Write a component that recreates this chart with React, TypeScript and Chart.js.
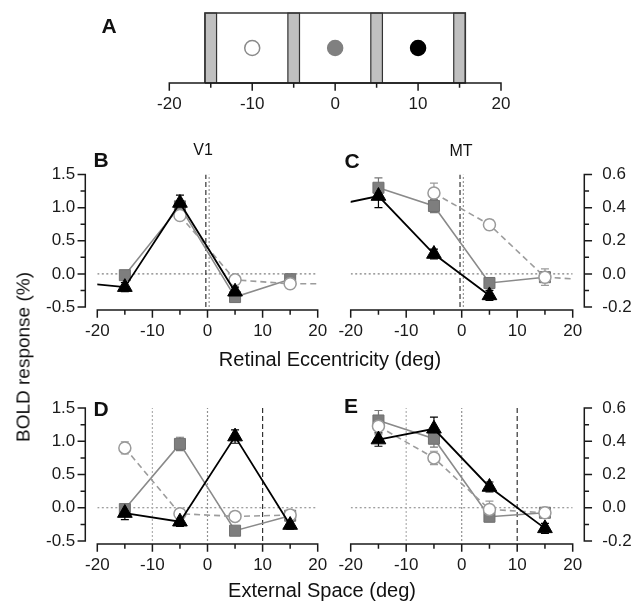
import React, { useEffect, useRef } from 'react';
import { Chart, registerables } from 'chart.js';

Chart.register(...registerables);

const FONT = '"Liberation Sans", Arial, Helvetica, sans-serif';
const W = 643;
const H = 602;

// ---------------- Axis ticks ----------------
const xTickValues = [-20, -10, 0, 10, 20];
const xTickLabels = ['-20', '-10', '0', '10', '20'];
const xMinorTicks = [-15, -5, 5, 15];
const leftYTickValues = [-0.5, 0, 0.5, 1.0, 1.5];
const leftYTickLabels = ['-0.5', '0.0', '0.5', '1.0', '1.5'];
const leftYMinorTicks = [-0.25, 0.25, 0.75, 1.25];
const rightYTickValues = [-0.2, 0, 0.2, 0.4, 0.6];
const rightYTickLabels = ['-0.2', '0.0', '0.2', '0.4', '0.6'];
const rightYMinorTicks = [-0.1, 0.1, 0.3, 0.5];

// ---------------- Panel A (stimulus layout, deg) ----------------
const stimBoxX = [-15.7, -15.7, 15.7, 15.7, -15.7];
const stimBoxY = [0, 1, 1, 0, 0];
const barCenters = [-15, -5, 5, 15];
const barHalfWidth = 0.7;
const fixationX = [-10, 0, 10];
const fixationY = [0.5, 0.5, 0.5];

// ---------------- Stimulus positions ----------------
const triRetinalX = [-25, -15, -5, 5];
const sqRetinalX = [-15, -5, 5, 15];
const circRetinalX = [-5, 5, 15, 25];
const externalX = [-15, -5, 5, 15];
const retinalGazeX = [-0.3, 0.3];
const externalGazeX = [-10, 0, 10];

// ---------------- Panel B: V1, retinal ----------------
const bTriY = [-0.12, -0.2, 1.07, -0.27];
const bTriErr = [0, 0.07, 0.12, 0.07];
const bSqY = [-0.02, 1.02, -0.35, -0.08];
const bSqErr = [0.05, 0.08, 0.05, 0.06];
const bCircY = [0.88, -0.09, -0.15, -0.15];
const bCircErr = [0.06, 0.05, 0.05, 0];

// ---------------- Panel C: MT, retinal ----------------
const cTriY = [0.4, 0.47, 0.12, -0.13];
const cTriErr = [0, 0.07, 0.03, 0.03];
const cSqY = [0.52, 0.41, -0.055, -0.02];
const cSqErr = [0.06, 0.04, 0.03, 0.03];
const cCircY = [0.488, 0.297, -0.02, -0.04];
const cCircErr = [0.06, 0.03, 0.05, 0];

// ---------------- Panel D: V1, external ----------------
const dTriY = [-0.08, -0.21, 1.07, -0.26];
const dTriErr = [0.1, 0.07, 0.1, 0.06];
const dSqY = [-0.02, 0.96, -0.345, -0.12];
const dSqErr = [0.06, 0.1, 0.04, 0.05];
const dCircY = [0.9, -0.09, -0.13, -0.11];
const dCircErr = [0.09, 0.05, 0.05, 0.05];

// ---------------- Panel E: MT, external ----------------
const eTriY = [0.41, 0.475, 0.125, -0.124];
const eTriErr = [0.04, 0.07, 0.03, 0.03];
const eSqY = [0.525, 0.415, -0.054, -0.03];
const eSqErr = [0.06, 0.05, 0.03, 0.03];
const eCircY = [0.49, 0.3, -0.01, -0.03];
const eCircErr = [0.05, 0.04, 0.05, 0.03];

// ---------------- Styles ----------------
const STY: any = {
  tri: { line: '#000', fill: '#000', stroke: '#000', style: 'triangle', r: 8.5, dash: [], err: '#000', bw: 1, lw: 1.8 },
  sq: { line: '#8a8a8a', fill: '#7e7e7e', stroke: '#707070', style: 'rect', r: 7.8, dash: [], err: '#777', bw: 1, lw: 1.6 },
  circ: { line: '#9c9c9c', fill: '#fff', stroke: '#9a9a9a', style: 'circle', r: 6, dash: [6, 4], err: '#9a9a9a', bw: 1.5, lw: 1.6 },
};

const errorBars = {
  id: 'errorBars',
  beforeDatasetsDraw(chart: any) {
    const { ctx, chartArea: ca } = chart;
    const ys = chart.scales.y;
    chart.data.datasets.forEach((ds: any, di: number) => {
      if (!ds.errors) return;
      const meta = chart.getDatasetMeta(di);
      ctx.save();
      ctx.beginPath();
      ctx.rect(ca.left, ca.top, ca.right - ca.left, ca.bottom - ca.top);
      ctx.clip();
      ctx.strokeStyle = ds.errColor;
      ctx.lineWidth = 1.2;
      meta.data.forEach((pt: any, i: number) => {
        const e = ds.errors[i];
        if (!e) return;
        const v = ds.data[i].y;
        const t = ys.getPixelForValue(v + e);
        const b = ys.getPixelForValue(v - e);
        const x = pt.x;
        ctx.beginPath();
        ctx.moveTo(x, t); ctx.lineTo(x, b);
        ctx.moveTo(x - 4, t); ctx.lineTo(x + 4, t);
        ctx.moveTo(x - 4, b); ctx.lineTo(x + 4, b);
        ctx.stroke();
      });
      ctx.restore();
    });
  },
};

const offsetAxes = {
  id: 'offsetAxes',
  afterDraw(chart: any, _args: any, opts: any) {
    const { ctx, chartArea: ca } = chart;
    const xs = chart.scales.x;
    const ys = chart.scales.y;
    ctx.save();
    ctx.setLineDash([]);
    ctx.strokeStyle = '#1a1a1a';
    ctx.fillStyle = '#1a1a1a';
    ctx.lineWidth = 1.5;
    ctx.lineCap = 'square';
    ctx.font = `17px ${FONT}`;
    if (opts.x) {
      const o = opts.x;
      const y0 = ca.bottom + o.gap;
      ctx.beginPath();
      ctx.moveTo(xs.getPixelForValue(o.major[0]), y0);
      ctx.lineTo(xs.getPixelForValue(o.major[o.major.length - 1]), y0);
      o.major.forEach((v: number) => {
        const p = xs.getPixelForValue(v);
        ctx.moveTo(p, y0); ctx.lineTo(p, y0 + 7);
      });
      o.minor.forEach((v: number) => {
        const p = xs.getPixelForValue(v);
        ctx.moveTo(p, y0); ctx.lineTo(p, y0 + 4);
      });
      ctx.stroke();
      ctx.textAlign = 'center';
      ctx.textBaseline = 'middle';
      o.major.forEach((v: number, i: number) => {
        ctx.fillText(o.labels[i], xs.getPixelForValue(v), y0 + 21);
      });
    }
    if (opts.y) {
      const o = opts.y;
      const left = o.side === 'left';
      const x0 = left ? ca.left - o.gap : ca.right + o.gap;
      const d = left ? -1 : 1;
      ctx.beginPath();
      ctx.moveTo(x0, ys.getPixelForValue(o.major[0]));
      ctx.lineTo(x0, ys.getPixelForValue(o.major[o.major.length - 1]));
      o.major.forEach((v: number) => {
        const p = ys.getPixelForValue(v);
        ctx.moveTo(x0, p); ctx.lineTo(x0 + d * 7, p);
      });
      o.minor.forEach((v: number) => {
        const p = ys.getPixelForValue(v);
        ctx.moveTo(x0, p); ctx.lineTo(x0 + d * 4, p);
      });
      ctx.stroke();
      ctx.textAlign = left ? 'right' : 'left';
      ctx.textBaseline = 'middle';
      o.major.forEach((v: number, i: number) => {
        ctx.fillText(o.labels[i], x0 + d * o.labelGap, ys.getPixelForValue(v));
      });
    }
    ctx.restore();
  },
};

type Area = { l: number; r: number; t: number; b: number };

function baseOptions(area: Area, yMin: number, yMax: number, axes: any) {
  return {
    responsive: false,
    animation: false,
    devicePixelRatio: 1,
    events: [],
    layout: {
      autoPadding: false,
      padding: { left: area.l, top: area.t, right: W - area.r, bottom: H - area.b },
    },
    scales: {
      x: { type: 'linear', min: -20, max: 20, display: false },
      y: { type: 'linear', min: yMin, max: yMax, display: false },
    },
    plugins: { legend: { display: false }, tooltip: { enabled: false }, offsetAxes: axes },
    elements: { line: { tension: 0 } },
  };
}

function series(xs: number[], ys: number[], errs: number[], s: any) {
  return {
    type: 'line',
    data: xs.map((x, i) => ({ x, y: ys[i] })),
    borderColor: s.line,
    borderWidth: s.lw,
    borderDash: s.dash,
    pointStyle: s.style,
    pointRadius: xs.map((x) => (Math.abs(x) > 20 ? 0 : s.r)),
    pointBackgroundColor: s.fill,
    pointBorderColor: s.stroke,
    pointBorderWidth: s.bw,
    errors: errs,
    errColor: s.err,
    fill: false,
  };
}

function refLine(points: { x: number; y: number }[], color: string, dash: number[]) {
  return {
    type: 'line',
    data: points,
    borderColor: color,
    borderWidth: 1.2,
    borderDash: dash,
    pointRadius: 0,
    fill: false,
  };
}

function panelConfig(
  area: Area, yMin: number, yMax: number, side: string,
  tri: [number[], number[], number[]], sq: [number[], number[], number[]], circ: [number[], number[], number[]],
  gazeX: number[], gazeColors: string[], gazeDashes: number[][]
) {
  const yAxis = side === 'left'
    ? { side: 'left', gap: 12, labelGap: 10, major: leftYTickValues, minor: leftYMinorTicks, labels: leftYTickLabels }
    : { side: 'right', gap: 11.6, labelGap: 18, major: rightYTickValues, minor: rightYMinorTicks, labels: rightYTickLabels };
  const datasets: any[] = [
    series(tri[0], tri[1], tri[2], STY.tri),
    series(circ[0], circ[1], circ[2], STY.circ),
    series(sq[0], sq[1], sq[2], STY.sq),
    ...gazeX.map((gx, i) => refLine([{ x: gx, y: yMin }, { x: gx, y: yMax }], gazeColors[i], gazeDashes[i])),
    refLine([{ x: -20, y: 0 }, { x: 20, y: 0 }], '#808080', [2, 2.5]),
  ];
  return {
    type: 'line',
    data: { datasets },
    options: baseOptions(area, yMin, yMax, {
      x: { gap: 3, major: xTickValues, minor: xMinorTicks, labels: xTickLabels },
      y: yAxis,
    }),
    plugins: [errorBars, offsetAxes],
  };
}

const RET_COLORS = ['#333', '#999'];
const RET_DASH = [[5, 3], [2, 2]];
const EXT_COLORS = ['#b0b0b0', '#909090', '#333'];
const EXT_DASH = [[2, 2], [2, 2], [5, 3]];

function configA() {
  const datasets: any[] = [
    {
      type: 'line',
      data: fixationX.map((x, i) => ({ x, y: fixationY[i] })),
      showLine: false,
      pointStyle: 'circle',
      pointRadius: 7.5,
      pointBackgroundColor: ['#ffffff', '#808080', '#000000'],
      pointBorderColor: ['#8a8a8a', '#808080', '#000000'],
      pointBorderWidth: 1.5,
      clip: false,
    },
    {
      type: 'line',
      data: stimBoxX.map((x, i) => ({ x, y: stimBoxY[i] })),
      borderColor: '#333',
      borderWidth: 1.5,
      pointRadius: 0,
      fill: false,
      clip: false,
    },
    ...barCenters.map((c) => ({
      type: 'line',
      data: [
        { x: c - barHalfWidth, y: 0 },
        { x: c - barHalfWidth, y: 1 },
        { x: c + barHalfWidth, y: 1 },
        { x: c + barHalfWidth, y: 0 },
      ],
      borderColor: '#333',
      borderWidth: 1.2,
      backgroundColor: '#c0c0c0',
      fill: 'origin',
      pointRadius: 0,
      clip: false,
    })),
  ];
  return {
    type: 'line',
    data: { datasets },
    options: baseOptions({ l: 169.3, r: 501, t: 13, b: 83 }, 0, 1, {
      x: { gap: 0, major: xTickValues, minor: xMinorTicks, labels: xTickLabels },
    }),
    plugins: [offsetAxes],
  };
}

const configs = [
  configA,
  () => panelConfig({ l: 97.3, r: 317.7, t: 174.5, b: 307 }, -0.5, 1.5, 'left',
    [triRetinalX, bTriY, bTriErr], [sqRetinalX, bSqY, bSqErr], [circRetinalX, bCircY, bCircErr],
    retinalGazeX, RET_COLORS, RET_DASH),
  () => panelConfig({ l: 350.7, r: 572.7, t: 174.5, b: 307 }, -0.2, 0.6, 'right',
    [triRetinalX, cTriY, cTriErr], [sqRetinalX, cSqY, cSqErr], [circRetinalX, cCircY, cCircErr],
    retinalGazeX, RET_COLORS, RET_DASH),
  () => panelConfig({ l: 97.3, r: 317.7, t: 408, b: 541 }, -0.5, 1.5, 'left',
    [externalX, dTriY, dTriErr], [externalX, dSqY, dSqErr], [externalX, dCircY, dCircErr],
    externalGazeX, EXT_COLORS, EXT_DASH),
  () => panelConfig({ l: 350.7, r: 572.7, t: 408, b: 541 }, -0.2, 0.6, 'right',
    [externalX, eTriY, eTriErr], [externalX, eSqY, eSqErr], [externalX, eCircY, eCircErr],
    externalGazeX, EXT_COLORS, EXT_DASH),
];

function ChartLayer({ make }: { make: () => any }) {
  const ref = useRef<HTMLCanvasElement>(null);
  useEffect(() => {
    const chart = new Chart(ref.current as HTMLCanvasElement, make());
    return () => chart.destroy();
  }, [make]);
  return (
    <canvas
      ref={ref}
      width={W}
      height={H}
      style={{ position: 'absolute', left: 0, top: 0, width: W, height: H }}
    />
  );
}

function Label(props: { x: number; y: number; text: string; size: number; bold?: boolean; rotate?: boolean }) {
  const { x, y, text, size, bold, rotate } = props;
  return (
    <div
      style={{
        position: 'absolute',
        left: x,
        top: y,
        transform: `translate(-50%, -50%)${rotate ? ' rotate(-90deg)' : ''}`,
        fontFamily: FONT,
        fontSize: size,
        fontWeight: bold ? 'bold' : 'normal',
        lineHeight: 1,
        whiteSpace: 'nowrap',
        color: '#111',
      }}
    >
      {text}
    </div>
  );
}

export default function App() {
  return (
    <div style={{ position: 'fixed', left: 0, top: 0, width: W, height: H, background: '#fff', overflow: 'hidden' }}>
      {configs.map((c, i) => (
        <ChartLayer key={i} make={c} />
      ))}
      <Label x={109} y={25} text="A" size={21} bold />
      <Label x={101} y={159} text="B" size={21} bold />
      <Label x={352} y={160} text="C" size={21} bold />
      <Label x={101} y={408} text="D" size={21} bold />
      <Label x={351} y={405} text="E" size={21} bold />
      <Label x={203} y={150} text="V1" size={16} />
      <Label x={461} y={151} text="MT" size={16} />
      <Label x={330} y={359} text="Retinal Eccentricity (deg)" size={20} />
      <Label x={322} y={590} text="External Space (deg)" size={20} />
      <Label x={23} y={357} text="BOLD response (%)" size={19} rotate />
    </div>
  );
}
